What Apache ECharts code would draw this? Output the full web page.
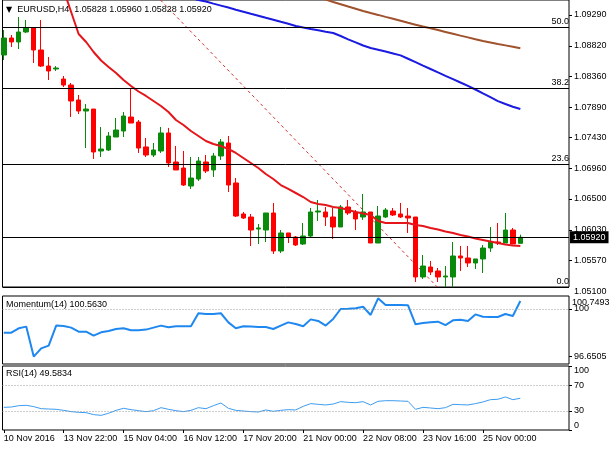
<!DOCTYPE html>
<html>
<head>
<meta charset="utf-8">
<title>EURUSD,H4</title>
<script src="https://cdn.jsdelivr.net/npm/echarts@6/dist/echarts.min.js"></script>
<style>
html, body { margin: 0; padding: 0; background: #fff; }
#main { width: 610px; height: 450px; }
</style>
</head>
<body>
<div id="main"></div>
<script>
// H4 candles, one entry per bar, oldest first
const opens = [1.08683, 1.08941, 1.08881, 1.09032, 1.09093, 1.08759, 1.08516, 1.08471, 1.08319, 1.08228,
  1.08001, 1.07834, 1.07864, 1.07228, 1.07243, 1.07440, 1.07531, 1.07743, 1.07667, 1.07289,
  1.07167, 1.07228, 1.07501, 1.07061, 1.06970, 1.06697, 1.06803, 1.07061, 1.06940, 1.07152,
  1.07349, 1.06743, 1.06273, 1.06227, 1.06045, 1.06030, 1.06288, 1.05712, 1.05985, 1.05924,
  1.05818, 1.05939, 1.06303, 1.06303, 1.06227, 1.06076, 1.06379, 1.06303, 1.06227, 1.06303,
  1.05833, 1.06227, 1.06318, 1.06273, 1.06242, 1.06227, 1.05318, 1.05469, 1.05409, 1.05318,
  1.05318, 1.05636, 1.05606, 1.05530, 1.05591, 1.05757, 1.05848, 1.05833, 1.06030, 1.05828];
const highs = [1.09062, 1.08987, 1.09259, 1.09214, 1.09108, 1.09214, 1.08653, 1.08516, 1.08365, 1.08259,
  1.08077, 1.07940, 1.07864, 1.07592, 1.07516, 1.07728, 1.07819, 1.08183, 1.07698, 1.07425,
  1.07349, 1.07592, 1.07577, 1.07304, 1.07228, 1.07137, 1.07137, 1.07167, 1.07198, 1.07410,
  1.07455, 1.06818, 1.06303, 1.06273, 1.06121, 1.06288, 1.06440, 1.06030, 1.05985, 1.05939,
  1.06136, 1.06364, 1.06485, 1.06379, 1.06364, 1.06409, 1.06485, 1.06333, 1.06576, 1.06303,
  1.06394, 1.06364, 1.06364, 1.06440, 1.06364, 1.06227, 1.05651, 1.05560, 1.05454, 1.05484,
  1.05848, 1.05788, 1.05788, 1.05591, 1.05803, 1.06076, 1.06136, 1.06288, 1.06061, 1.05960];
const lows = [1.08607, 1.08805, 1.08774, 1.09017, 1.08562, 1.08501, 1.08304, 1.08441, 1.08198, 1.07743,
  1.07789, 1.07273, 1.07107, 1.07137, 1.07228, 1.07440, 1.07440, 1.07652, 1.07198, 1.07137,
  1.07137, 1.07198, 1.06986, 1.06940, 1.06697, 1.06652, 1.06773, 1.06894, 1.06834, 1.07091,
  1.06606, 1.06227, 1.06197, 1.05788, 1.05818, 1.05848, 1.05666, 1.05681, 1.05833, 1.05788,
  1.05803, 1.05909, 1.06167, 1.06091, 1.05894, 1.06076, 1.06258, 1.06030, 1.06182, 1.05833,
  1.05833, 1.06212, 1.06242, 1.06212, 1.05985, 1.05242, 1.05288, 1.05348, 1.05242, 1.05166,
  1.05166, 1.05409, 1.05469, 1.05439, 1.05378, 1.05697, 1.05803, 1.05833, 1.05818, 1.05828];
const closes = [1.08941, 1.08881, 1.09032, 1.09093, 1.08759, 1.08516, 1.08441, 1.08486, 1.08228, 1.07986,
  1.07834, 1.07864, 1.07213, 1.07258, 1.07455, 1.07546, 1.07758, 1.07652, 1.07273, 1.07167,
  1.07243, 1.07501, 1.07046, 1.06940, 1.06712, 1.06818, 1.07076, 1.06925, 1.07152, 1.07364,
  1.06712, 1.06242, 1.06212, 1.06030, 1.06061, 1.06288, 1.05712, 1.05985, 1.05924, 1.05803,
  1.05939, 1.06303, 1.06318, 1.06227, 1.06076, 1.06379, 1.06288, 1.06197, 1.06303, 1.05833,
  1.06242, 1.06333, 1.06258, 1.06227, 1.06212, 1.05318, 1.05484, 1.05393, 1.05318, 1.05333,
  1.05636, 1.05606, 1.05530, 1.05591, 1.05757, 1.05848, 1.05833, 1.06030, 1.05818, 1.05920];

// moving averages (first visible bar index + values)
const redMaFrom = 8;
const redMa = [1.09669, 1.09335, 1.09002, 1.08880, 1.08729, 1.08600, 1.08501, 1.08410, 1.08304, 1.08213,
  1.08130, 1.08062, 1.07986, 1.07910, 1.07819, 1.07698, 1.07622, 1.07531, 1.07455, 1.07379,
  1.07334, 1.07304, 1.07258, 1.07198, 1.07122, 1.07046, 1.06970, 1.06879, 1.06803, 1.06712,
  1.06652, 1.06591, 1.06530, 1.06455, 1.06424, 1.06409, 1.06379, 1.06364, 1.06333, 1.06303,
  1.06280, 1.06258, 1.06167, 1.06136, 1.06136, 1.06136, 1.06136, 1.06106, 1.06091, 1.06061,
  1.06038, 1.06008, 1.05985, 1.05955, 1.05932, 1.05901, 1.05879, 1.05856, 1.05833, 1.05810,
  1.05795, 1.05788];
const blueMaFrom = 25;
const blueMa = [1.09547, 1.09517, 1.09493, 1.09462, 1.09432, 1.09402, 1.09370, 1.09340, 1.09309, 1.09279,
  1.09247, 1.09217, 1.09186, 1.09156, 1.09124, 1.09099, 1.09077, 1.09058, 1.09036, 1.09017,
  1.08971, 1.08921, 1.08874, 1.08827, 1.08789, 1.08764, 1.08736, 1.08707, 1.08677, 1.08626,
  1.08574, 1.08522, 1.08471, 1.08419, 1.08368, 1.08318, 1.08266, 1.08215, 1.08160, 1.08101,
  1.08043, 1.07984, 1.07940, 1.07899, 1.07865];
const brownMaFrom = 42;
const brownMa = [1.09556, 1.09523, 1.09487, 1.09453, 1.09418, 1.09385, 1.09350, 1.09320, 1.09291, 1.09261,
  1.09232, 1.09202, 1.09171, 1.09143, 1.09115, 1.09088, 1.09061, 1.09033, 1.09005, 1.08977,
  1.08950, 1.08921, 1.08894, 1.08873, 1.08850, 1.08829, 1.08808, 1.08785];

// fibonacci retracement
const fibHigh = 1.13050;
const fibLow = 1.05166;
const fibLevels = [0, 23.6, 38.2, 50];
const fibTrendStart = [-9.1, fibHigh];
const fibTrendEnd = [57.9, fibLow];
const lastPrice = 1.05920;

const momentum = [98.33, 98.33, 98.64, 98.76, 96.65, 97.23, 97.42, 98.83, 98.80, 98.69,
  98.40, 98.40, 98.12, 98.36, 98.45, 98.59, 98.64, 98.50, 98.50, 98.55,
  98.69, 98.83, 98.71, 98.78, 98.78, 98.78, 99.70, 99.65, 99.65, 99.70,
  99.06, 98.64, 98.78, 98.76, 98.73, 98.73, 98.59, 98.83, 99.06, 98.94,
  98.78, 99.27, 99.16, 98.83, 99.30, 100.00, 100.02, 100.05, 100.16, 99.58,
  100.7493, 100.28, 100.28, 100.28, 100.26, 98.92, 99.01, 99.06, 99.11, 98.87,
  99.20, 99.25, 99.16, 99.62, 99.46, 99.44, 99.44, 99.65, 99.51, 100.563];
const rsi = [35.4, 35.9, 38.0, 38.6, 36.5, 33.3, 32.8, 32.3, 30.7, 28.7,
  27.6, 27.1, 24.0, 22.9, 26.1, 30.7, 33.9, 31.8, 30.2, 28.7,
  30.2, 34.9, 32.3, 30.2, 28.7, 30.7, 34.9, 33.3, 38.0, 42.2,
  33.9, 30.7, 29.7, 28.7, 28.1, 31.3, 29.2, 30.7, 31.8, 31.3,
  37.0, 41.2, 40.1, 39.1, 40.6, 44.3, 43.2, 42.7, 44.3, 39.1,
  44.8, 45.8, 45.8, 45.3, 44.8, 32.3, 35.4, 34.4, 33.3, 34.9,
  40.1, 39.6, 39.1, 41.2, 43.8, 47.4, 48.0, 51.6, 47.4, 49.58];

// axis labels
const timeLabels = ['10 Nov 2016', '13 Nov 22:00', '15 Nov 04:00', '16 Nov 12:00', '17 Nov 20:00',
  '21 Nov 00:00', '22 Nov 08:00', '23 Nov 16:00', '25 Nov 00:00'];
const barsPerLabel = 8;
const priceTicks = [1.09290, 1.08820, 1.08360, 1.07890, 1.07430, 1.06960, 1.06500, 1.06030, 1.05570];
const priceBelowTick = 1.05100;
const momTicks = [96.6505, 100];
const momMaxTick = 100.7493;
const rsiTicks = [0, 30, 70, 100];

const FONT = 'Liberation Sans';
const chart = echarts.init(document.getElementById('main'));

const candleData = opens.map((o, i) => [i, o, closes[i], lows[i], highs[i]]);
const timeTickValues = timeLabels.map((_, k) => k * barsPerLabel);
function pairs(values, from) {
    return values.map((v, i) => [from + i, v]);
}

const labelStyle = { color: '#000', fontFamily: FONT, fontSize: 9 };
const dotted = { color: '#9a9a9a', type: [1, 2], width: 1 };

function xAxisFor(g) {
    const bottom = g === 2;
    return {
        type: 'value', gridIndex: g, min: -0.17, max: 75.5,
        axisLine: { show: false, onZero: false },
        splitLine: { show: false },
        axisTick: { show: bottom, customValues: timeTickValues, length: 3, lineStyle: { color: '#000' } },
        axisLabel: Object.assign({
            show: bottom, customValues: timeTickValues, align: 'left', margin: 4,
            showMinLabel: true, showMaxLabel: true,
            formatter: v => timeLabels[Math.round(v / barsPerLabel)]
        }, labelStyle)
    };
}

function yAxisFor(g, min, max, ticks, fmt) {
    return {
        type: 'value', gridIndex: g, position: 'right', min: min, max: max,
        axisLine: { show: false, onZero: false },
        splitLine: { show: false },
        axisTick: { show: true, customValues: ticks, length: 3, lineStyle: { color: '#000' } },
        axisLabel: Object.assign({
            customValues: ticks, margin: 5, formatter: fmt, hideOverlap: false,
            showMinLabel: true, showMaxLabel: true
        }, labelStyle)
    };
}

const momAxis = yAxisFor(1, 96.128, 100.915, momTicks, v => (v === 100 ? '100' : v.toFixed(4)));
const rsiAxis = yAxisFor(2, 0, 100, rsiTicks, v => String(v));
rsiAxis.axisLabel.verticalAlignMaxLabel = 'top';
rsiAxis.axisLabel.verticalAlignMinLabel = 'bottom';

const fibLines = fibLevels.map(l => ({
    yAxis: fibLow + (fibHigh - fibLow) * l / 100,
    label: Object.assign({ formatter: l.toFixed(1), position: 'insideEndTop', distance: [0, 1] }, labelStyle)
}));

const option = {
    animation: false,
    backgroundColor: '#fff',
    title: [
        {
            text: '{t|▼}  EURUSD,H4  1.05828 1.05960 1.05828 1.05920',
            left: 6, top: 5, padding: 0,
            textStyle: {
                color: '#000', fontFamily: FONT, fontSize: 9, fontWeight: 'normal',
                rich: { t: { fontSize: 8, fontFamily: 'DejaVu Sans', color: '#000' } }
            }
        },
        {
            text: 'Momentum(14) 100.5630', left: 6, top: 300, padding: 0,
            textStyle: { color: '#000', fontFamily: FONT, fontSize: 9, fontWeight: 'normal' }
        },
        {
            text: 'RSI(14) 49.5834', left: 6, top: 369, padding: 0,
            textStyle: { color: '#000', fontFamily: FONT, fontSize: 9, fontWeight: 'normal' }
        }
    ],
    grid: [
        { left: 2.5, right: 41, top: 0, height: 287, show: true, borderColor: '#000', borderWidth: 1 },
        { left: 2.5, right: 41, top: 296, height: 68, show: true, borderColor: '#000', borderWidth: 1 },
        { left: 2.5, right: 41, top: 366, height: 64, show: true, borderColor: '#000', borderWidth: 1 }
    ],
    xAxis: [xAxisFor(0), xAxisFor(1), xAxisFor(2)],
    yAxis: [
        yAxisFor(0, 1.05166, 1.09517, priceTicks, v => v.toFixed(5)),
        momAxis,
        rsiAxis
    ],
    series: [
        {
            type: 'candlestick', xAxisIndex: 0, yAxisIndex: 0,
            data: candleData,
            encode: { x: 0, y: [1, 2, 3, 4] },
            barWidth: 5,
            itemStyle: {
                color: '#0a8a0a', color0: '#ff0000',
                borderColor: '#0a8a0a', borderColor0: '#ff0000', borderWidth: 1
            },
            z: 3
        },
        {
            // fibo trend line, levels and the bid line
            type: 'line', xAxisIndex: 0, yAxisIndex: 0,
            data: [fibTrendStart, fibTrendEnd],
            symbol: 'none', silent: true,
            lineStyle: { color: '#d23232', width: 1, type: [3, 3] },
            markLine: {
                silent: true, symbol: ['none', 'none'], animation: false, precision: 5,
                lineStyle: { color: '#000', width: 1, type: 'solid' },
                data: fibLines.concat([{
                    yAxis: lastPrice,
                    label: {
                        formatter: lastPrice.toFixed(5), position: 'end', distance: 1,
                        color: '#fff', backgroundColor: '#000', padding: [2, 3, 1, 3],
                        fontFamily: FONT, fontSize: 9
                    }
                }])
            },
            z: 2
        },
        {
            type: 'line', xAxisIndex: 0, yAxisIndex: 0,
            data: pairs(brownMa, brownMaFrom),
            symbol: 'none', silent: true,
            lineStyle: { color: '#a0522d', width: 2 }, z: 4
        },
        {
            type: 'line', xAxisIndex: 0, yAxisIndex: 0,
            data: pairs(blueMa, blueMaFrom),
            symbol: 'none', silent: true,
            lineStyle: { color: '#1a1ae0', width: 2 }, z: 4
        },
        {
            type: 'line', xAxisIndex: 0, yAxisIndex: 0,
            data: pairs(redMa, redMaFrom),
            symbol: 'none', silent: true,
            lineStyle: { color: '#e4161b', width: 2 }, z: 4
        },
        {
            type: 'line', xAxisIndex: 1, yAxisIndex: 1,
            data: pairs(momentum, 0),
            symbol: 'none', silent: true,
            lineStyle: { color: '#1e88f0', width: 2 },
            markLine: {
                silent: true, symbol: ['none', 'none'], label: { show: false }, precision: 4,
                lineStyle: dotted, data: [{ yAxis: 100 }]
            }
        },
        {
            type: 'line', xAxisIndex: 2, yAxisIndex: 2,
            data: pairs(rsi, 0),
            symbol: 'none', silent: true,
            lineStyle: { color: '#3d9cf0', width: 1 },
            markLine: {
                silent: true, symbol: ['none', 'none'], label: { show: false },
                lineStyle: dotted, data: [{ yAxis: 70 }, { yAxis: 30 }]
            }
        }
    ]
};
chart.setOption(option);

// two scale labels MT4 squeezes in where the axis would drop them
const belowY = chart.convertToPixel({ yAxisIndex: 0 }, priceBelowTick);
const momMaxY = chart.convertToPixel({ yAxisIndex: 1 }, momMaxTick);
chart.setOption({
    graphic: [{
        type: 'text', x: 574, y: belowY,
        style: { text: priceBelowTick.toFixed(5), fill: '#000', font: '9px "Liberation Sans"', verticalAlign: 'middle' }
    }, {
        type: 'text', x: 572, y: momMaxY, z: 10,
        style: { text: momMaxTick.toFixed(4), fill: '#000', font: '9px "Liberation Sans"', verticalAlign: 'top' }
    }]
});
</script>
</body>
</html>
